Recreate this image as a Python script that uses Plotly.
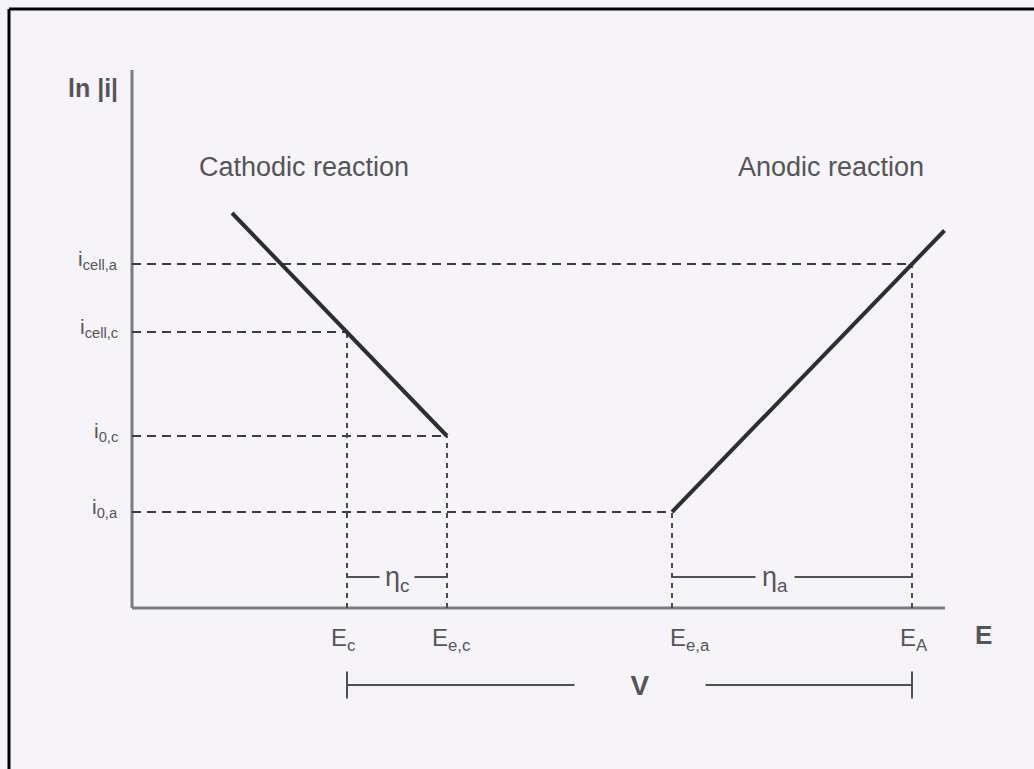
import plotly.graph_objects as go

# Potentials (arbitrary units along E)
E_c = 4.3      # cathode potential under current
E_eq_c = 6.3   # equilibrium potential, cathodic reaction
E_eq_a = 10.8  # equilibrium potential, anodic reaction
E_A = 15.6     # anode potential under current

# ln|i| levels (arbitrary units)
ln_i0_a = 1.92
ln_i0_c = 3.44
ln_icell_c = 5.52
ln_icell_a = 6.88

# Tafel lines
cath_E = [2.0, E_eq_c]
cath_lni = [7.9, ln_i0_c]
anod_E = [E_eq_a, 16.25]
anod_lni = [ln_i0_a, 7.55]

# Axis extents
E_max = 16.26
lni_max = 10.76

y_labels = ["i<sub>cell,a</sub>", "i<sub>cell,c</sub>", "i<sub>0,c</sub>", "i<sub>0,a</sub>"]
y_levels = [ln_icell_a, ln_icell_c, ln_i0_c, ln_i0_a]
x_labels = ["E<sub>c</sub>", "E<sub>e,c</sub>", "E<sub>e,a</sub>", "E<sub>A</sub>"]
x_levels = [E_c, E_eq_c, E_eq_a, E_A]
x_label_shift = [-4, 4, 18, 2]

BG = "#f6f4f9"
INK = "#555558"
FONT = "Liberation Sans, Arial, sans-serif"

fig = go.Figure()

def seg(x, y, color=INK, width=2, dash=None):
    fig.add_trace(go.Scatter(x=x, y=y, mode="lines", hoverinfo="skip",
                             line=dict(color=color, width=width, dash=dash),
                             showlegend=False))

# axes
seg([0, 0], [0, lni_max], color="#7a7a80", width=3)
seg([0, E_max], [0, 0], color="#7a7a85", width=3)

# horizontal guides to the current levels
seg([0, E_A], [ln_icell_a] * 2, color="#3c3c3c", width=2, dash="9px,6px")
seg([0, E_c], [ln_icell_c] * 2, color="#3c3c3c", width=2, dash="9px,6px")
seg([0, E_eq_c], [ln_i0_c] * 2, color="#3c3c3c", width=2, dash="9px,6px")
seg([0, E_eq_a], [ln_i0_a] * 2, color="#3c3c3c", width=2, dash="9px,6px")

# vertical guides down to the E axis
seg([E_c, E_c], [0, ln_icell_c], color="#4a4a4a", width=2, dash="5px,5px")
seg([E_eq_c, E_eq_c], [0, ln_i0_c], color="#4a4a4a", width=2, dash="5px,5px")
seg([E_eq_a, E_eq_a], [0, ln_i0_a], color="#4a4a4a", width=2, dash="5px,5px")
seg([E_A, E_A], [0, ln_icell_a], color="#4a4a4a", width=2, dash="5px,5px")

# Tafel lines
seg(cath_E, cath_lni, color="#2e2e30", width=4)
seg(anod_E, anod_lni, color="#2e2e30", width=4)

# overpotential spans
eta_y = 0.62
seg([E_c, E_eq_c], [eta_y, eta_y], color="#505050", width=2)
seg([E_eq_a, E_A], [eta_y, eta_y], color="#505050", width=2)

# cell voltage span
v_y = -1.54
seg([E_c, E_A], [v_y, v_y], color="#505050", width=2)
seg([E_c, E_c], [v_y - 0.27, v_y + 0.27], color="#505050", width=2)
seg([E_A, E_A], [v_y - 0.27, v_y + 0.27], color="#505050", width=2)

ann = []

def txt(x, y, s, size=20, color=INK, xanchor="center", yanchor="middle",
        bg=None, xshift=0, yshift=0, bold=False, pad=1):
    if bold:
        s = "<b>" + s + "</b>"
    d = dict(x=x, y=y, text=s, showarrow=False, xanchor=xanchor, yanchor=yanchor,
             xshift=xshift, yshift=yshift, borderpad=pad,
             font=dict(family=FONT, size=size, color=color))
    if bg:
        d["bgcolor"] = bg
    ann.append(d)

txt(0, lni_max, "ln |i|", size=25, xanchor="right", yanchor="top", xshift=-12,
    yshift=-2, bold=True)
txt(3.44, 8.82, "Cathodic reaction", size=27)
txt(13.98, 8.82, "Anodic reaction", size=27)

for s, v in zip(y_labels, y_levels):
    txt(0, v, s, size=21, xanchor="right", xshift=-12, yshift=4)

for s, v, dx in zip(x_labels, x_levels, x_label_shift):
    txt(v, 0, s, size=24, yanchor="top", yshift=-14, xshift=dx)

txt(E_max, 0, "E", size=26, xanchor="left", yanchor="middle", xshift=28,
    yshift=-27, bold=True)

txt((E_c + E_eq_c) / 2, eta_y, "η<sub>c</sub>", size=27, bg=BG, yshift=-2, pad=5)
txt(12.85, eta_y, "η<sub>a</sub>", size=27, bg=BG, yshift=-2, pad=6)
gap = "&nbsp;" * 7
txt(10.16, v_y, gap + "V" + gap, size=28, bg=BG, pad=1, bold=True)

fig.update_layout(
    width=1034, height=769,
    margin=dict(l=0, r=0, t=0, b=0),
    paper_bgcolor=BG, plot_bgcolor=BG,
    xaxis=dict(range=[-2.64, 18.04], visible=False, fixedrange=True),
    yaxis=dict(range=[-3.22, 12.16], visible=False, fixedrange=True),
    annotations=ann,
    shapes=[
        dict(type="line", xref="paper", yref="paper", x0=9 / 1034, x1=9 / 1034,
             y0=0, y1=1 - 9 / 769, line=dict(color="black", width=3)),
        dict(type="line", xref="paper", yref="paper", x0=9 / 1034, x1=1,
             y0=1 - 9 / 769, y1=1 - 9 / 769, line=dict(color="black", width=3)),
    ],
)

fig.write_html("out.html")
